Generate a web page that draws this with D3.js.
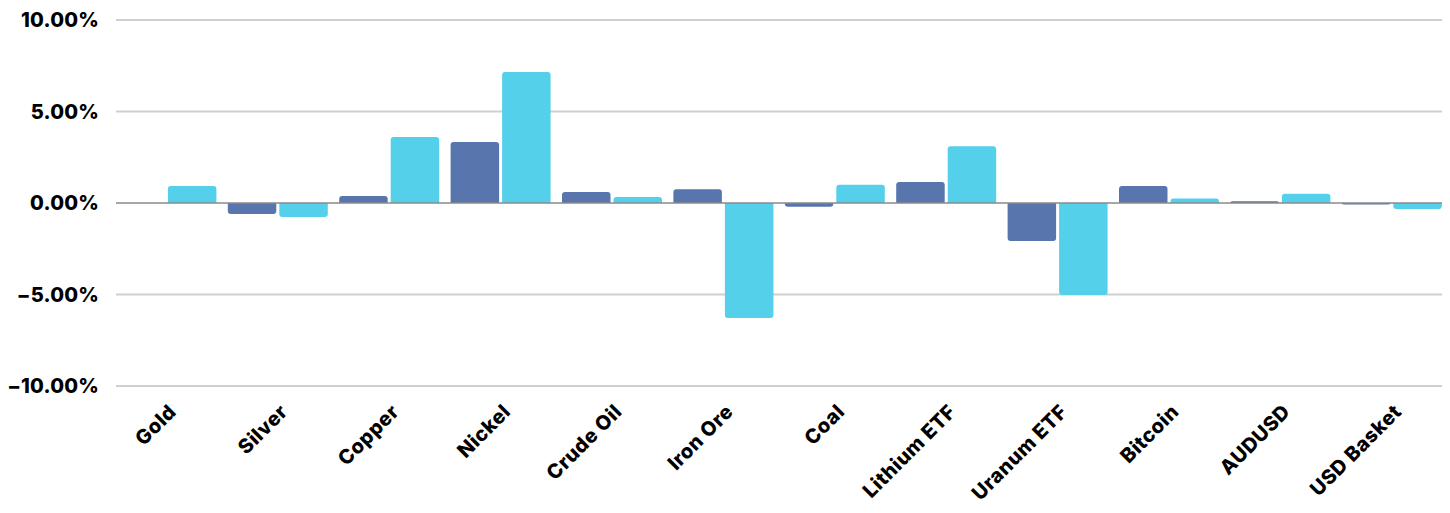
<!DOCTYPE html>
<meta charset="utf-8">
<style>
body { margin: 0; background: #fff; }
text { font-family: Inter, "Open Sans", sans-serif; font-weight: 800; fill: #000; }
</style>
<body>
<div id="chart"></div>
</body>
<script src="https://cdn.jsdelivr.net/npm/d3@7"></script>
<script>
// data (percent)
var categories = ["Gold", "Silver", "Copper", "Nickel", "Crude Oil", "Iron Ore",
                  "Coal", "Lithium ETF", "Uranum ETF", "Bitcoin", "AUDUSD", "USD Basket"];
var seriesA = [0, -0.6, 0.38, 3.33, 0.6, 0.75, -0.2, 1.15, -2.08, 0.93, 0.1, -0.08];
var seriesB = [0.93, -0.77, 3.6, 7.16, 0.33, -6.28, 1.0, 3.1, -5.03, 0.24, 0.5, -0.33];
var yTicks = [10, 5, 0, -5, -10];

var width = 1450, height = 513;
var colors = ["#5876ad", "#54d0ea"];

var svg = d3.select("#chart").append("svg")
    .attr("width", width)
    .attr("height", height);

var x = d3.scaleBand()
    .domain(categories)
    .range([110.7, 1447.5])
    .paddingInner(0)
    .paddingOuter(0);

var y = d3.scaleLinear()
    .domain([-10, 10])
    .range([386, 20]);

var barW = 48.5, gap = 3;

// gridlines
svg.append("g").selectAll("line")
  .data(yTicks.filter(function(d) { return d !== 0; }))
  .enter().append("line")
    .attr("x1", 116).attr("x2", 1442)
    .attr("y1", function(d) { return y(d); })
    .attr("y2", function(d) { return y(d); })
    .attr("stroke", "#cfcfcf")
    .attr("stroke-width", 2);

// y axis labels
svg.append("g").selectAll("text")
  .data(yTicks)
  .enter().append("text")
    .attr("x", 99)
    .attr("y", function(d) { return y(d); })
    .attr("dy", "0.36em")
    .attr("text-anchor", "end")
    .style("font-size", "20px")
    .style("letter-spacing", "0.2px")
    .text(function(d) { return d3.format(".2f")(d) + "%"; });

// bar with rounded far end
function barPath(x0, w, v) {
  var y0 = y(0), y1 = y(v), r = Math.min(3, Math.abs(y1 - y0));
  if (Math.abs(y1 - y0) < 0.01) return "";
  var s = y1 < y0 ? 1 : -1;
  return "M" + x0 + "," + y0 +
    "V" + (y1 + s * r) +
    "Q" + x0 + "," + y1 + " " + (x0 + r) + "," + y1 +
    "H" + (x0 + w - r) +
    "Q" + (x0 + w) + "," + y1 + " " + (x0 + w) + "," + (y1 + s * r) +
    "V" + y0 + "Z";
}

var series = [seriesA, seriesB];
series.forEach(function(vals, si) {
  svg.append("g").selectAll("path")
    .data(categories)
    .enter().append("path")
      .attr("fill", colors[si])
      .attr("d", function(d, i) {
        var c = x(d) + x.bandwidth() / 2;
        var x0 = si === 0 ? c - gap / 2 - barW : c + gap / 2;
        return barPath(x0, barW, vals[i]);
      });
});

// zero line
svg.append("line")
    .attr("x1", 116).attr("x2", 1442)
    .attr("y1", y(0)).attr("y2", y(0))
    .attr("stroke", "#8a8a8a")
    .attr("stroke-width", 1.5);

// category labels
svg.append("g").selectAll("text")
  .data(categories)
  .enter().append("text")
    .attr("text-anchor", "end")
    .attr("transform", function(d) {
      return "translate(" + (x(d) + x.bandwidth() / 2 + 11) + ",413) rotate(-45)";
    })
    .style("font-size", "20px")
    .style("letter-spacing", "0.5px")
    .text(function(d) { return d; });
</script>
